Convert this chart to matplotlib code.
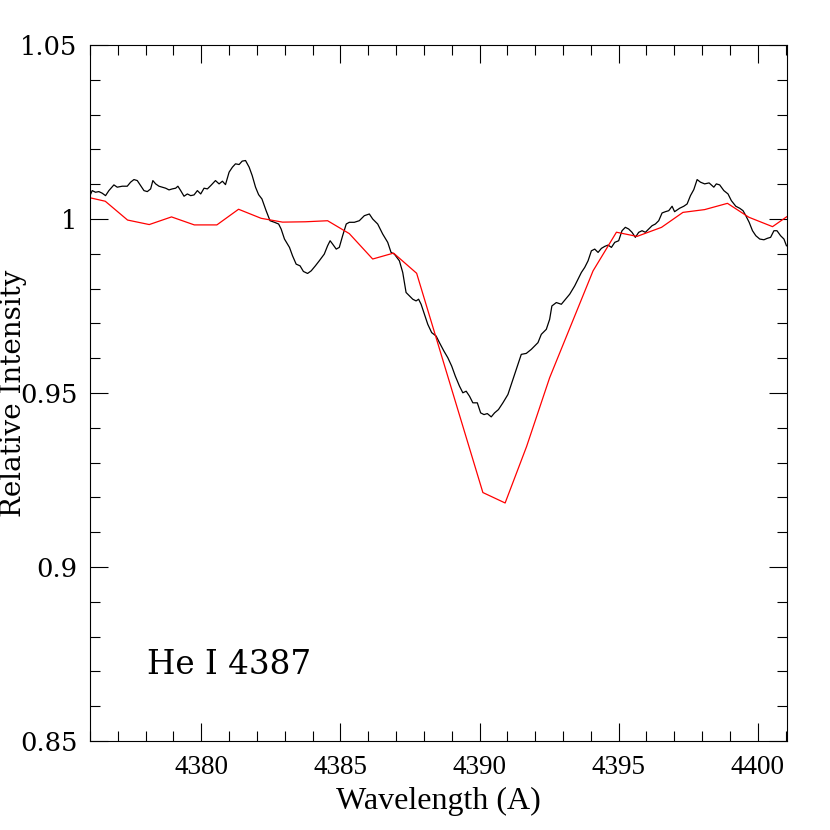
import matplotlib
matplotlib.use('Agg')
import matplotlib.pyplot as plt
from matplotlib.ticker import MultipleLocator, FormatStrFormatter, FuncFormatter

obs_wave = [4376.00, 4376.08, 4376.20, 4376.32, 4376.44, 4376.56, 4376.68, 4376.86, 4376.98, 4377.16,
            4377.34, 4377.46, 4377.58, 4377.70, 4377.82, 4377.94, 4378.06, 4378.18, 4378.26, 4378.36,
            4378.48, 4378.60, 4378.72, 4378.84, 4378.96, 4379.08, 4379.16, 4379.26, 4379.38, 4379.50,
            4379.62, 4379.74, 4379.86, 4379.98, 4380.10, 4380.22, 4380.34, 4380.51, 4380.64, 4380.76,
            4380.87, 4381.00, 4381.12, 4381.23, 4381.36, 4381.47, 4381.59, 4381.72, 4381.83, 4381.95,
            4382.06, 4382.18, 4382.33, 4382.47, 4382.63, 4382.78, 4382.87, 4382.99, 4383.17, 4383.28,
            4383.41, 4383.55, 4383.67, 4383.82, 4383.95, 4384.10, 4384.24, 4384.42, 4384.54, 4384.63,
            4384.72, 4384.85, 4384.96, 4385.08, 4385.21, 4385.32, 4385.50, 4385.68, 4385.86, 4386.04,
            4386.16, 4386.34, 4386.52, 4386.70, 4386.82, 4386.94, 4387.12, 4387.24, 4387.36, 4387.48,
            4387.60, 4387.72, 4387.81, 4387.90, 4388.02, 4388.14, 4388.28, 4388.44, 4388.56, 4388.72,
            4388.86, 4389.00, 4389.13, 4389.28, 4389.40, 4389.52, 4389.64, 4389.76, 4389.92, 4390.04,
            4390.16, 4390.28, 4390.42, 4390.54, 4390.68, 4390.84, 4391.02, 4391.20, 4391.36, 4391.50,
            4391.68, 4391.86, 4391.98, 4392.10, 4392.22, 4392.40, 4392.52, 4392.60, 4392.76, 4392.94,
            4393.06, 4393.24, 4393.42, 4393.54, 4393.66, 4393.78, 4393.90, 4394.02, 4394.14, 4394.26,
            4394.38, 4394.50, 4394.62, 4394.74, 4394.86, 4395.00, 4395.12, 4395.24, 4395.36, 4395.48,
            4395.60, 4395.72, 4395.84, 4395.96, 4396.08, 4396.20, 4396.32, 4396.44, 4396.56, 4396.68,
            4396.80, 4396.92, 4397.01, 4397.19, 4397.34, 4397.46, 4397.58, 4397.70, 4397.82, 4397.94,
            4398.09, 4398.25, 4398.33, 4398.42, 4398.51, 4398.63, 4398.78, 4398.93, 4399.05, 4399.21,
            4399.35, 4399.47, 4399.57, 4399.69, 4399.81, 4399.93, 4400.07, 4400.22, 4400.34, 4400.46,
            4400.58, 4400.69, 4400.82, 4400.94, 4401.03]
obs_flux = [1.00671, 1.00816, 1.00769, 1.00787, 1.00741, 1.00671, 1.00816, 1.00980, 1.00914, 1.00942,
            1.00942, 1.01058, 1.01133, 1.01104, 1.00960, 1.00816, 1.00787, 1.00865, 1.01104, 1.01009,
            1.00942, 1.00914, 1.00885, 1.00836, 1.00865, 1.00885, 1.00942, 1.00816, 1.00654, 1.00720,
            1.00671, 1.00692, 1.00816, 1.00720, 1.00885, 1.00865, 1.00960, 1.01104, 1.01009, 1.01086,
            1.00988, 1.01346, 1.01490, 1.01585, 1.01565, 1.01663, 1.01680, 1.01490, 1.01248, 1.00914,
            1.00700, 1.00576, 1.00239, 0.99951, 0.99905, 0.99856, 0.99712, 0.99424, 0.99184, 0.98942,
            0.98703, 0.98654, 0.98493, 0.98435, 0.98510, 0.98654, 0.98798, 0.98991, 0.99231, 0.99375,
            0.99280, 0.99135, 0.99184, 0.99519, 0.99856, 0.99905, 0.99905, 0.99951, 1.00095, 1.00144,
            1.00000, 0.99856, 0.99568, 0.99329, 0.99040, 0.98991, 0.98798, 0.98464, 0.97888, 0.97790,
            0.97695, 0.97646, 0.97695, 0.97550, 0.97262, 0.96974, 0.96735, 0.96637, 0.96447, 0.96205,
            0.96014, 0.95772, 0.95484, 0.95196, 0.95006, 0.95052, 0.94908, 0.94718, 0.94718, 0.94429,
            0.94380, 0.94409, 0.94314, 0.94429, 0.94524, 0.94718, 0.94957, 0.95389, 0.95772, 0.96110,
            0.96138, 0.96254, 0.96349, 0.96447, 0.96686, 0.96830, 0.97118, 0.97501, 0.97599, 0.97550,
            0.97666, 0.97839, 0.98078, 0.98271, 0.98464, 0.98608, 0.98798, 0.99086, 0.99135, 0.99040,
            0.99156, 0.99213, 0.99251, 0.99184, 0.99329, 0.99375, 0.99663, 0.99761, 0.99712, 0.99617,
            0.99473, 0.99617, 0.99663, 0.99617, 0.99712, 0.99807, 0.99856, 0.99951, 1.00173, 1.00210,
            1.00239, 1.00366, 1.00210, 1.00308, 1.00366, 1.00432, 1.00671, 1.00844, 1.01133, 1.01058,
            1.01009, 1.01037, 1.00980, 1.00914, 1.01009, 1.00980, 1.00816, 1.00720, 1.00527, 1.00366,
            1.00308, 1.00239, 1.00095, 0.99905, 0.99663, 0.99519, 0.99424, 0.99403, 0.99444, 0.99473,
            0.99663, 0.99663, 0.99519, 0.99424, 0.99231]

# model spectrum
mod_wave = [4376.00, 4376.55, 4377.35, 4378.13, 4378.93, 4379.75, 4380.56, 4381.34, 4382.15, 4382.92,
            4383.74, 4384.54, 4385.32, 4386.16, 4386.91, 4387.74, 4390.12, 4390.92, 4391.69, 4392.52,
            4394.08, 4394.92, 4395.66, 4396.54, 4397.31, 4398.09, 4398.91, 4399.68, 4400.53, 4401.05]
mod_flux = [1.0061, 1.0051, 0.9997, 0.9984, 1.0006, 0.9983, 0.9983, 1.0028, 1.0002, 0.9991,
            0.9992, 0.9995, 0.9958, 0.9885, 0.9902, 0.9844, 0.9214, 0.9184, 0.9346, 0.9544,
            0.9851, 0.9962, 0.9950, 0.9976, 1.0019, 1.0027, 1.0045, 1.0005, 0.9978, 1.0007]

plt.rcParams['font.family'] = ['DejaVu Serif']

fig = plt.figure(figsize=(8.3, 8.3), dpi=100)
ax = fig.add_axes([0.1084, 0.1072, 0.8398, 0.8386])

ax.plot(obs_wave, obs_flux, color='black', linewidth=0.9)
ax.plot(mod_wave, mod_flux, color='red', linewidth=0.9)

ax.set_xlim(4376, 4401.05)
ax.set_ylim(0.85, 1.05)

ax.xaxis.set_major_locator(MultipleLocator(5))
ax.xaxis.set_minor_locator(MultipleLocator(1))
ax.yaxis.set_major_locator(MultipleLocator(0.05))
ax.yaxis.set_minor_locator(MultipleLocator(0.01))
ax.xaxis.set_major_formatter(FormatStrFormatter('%d'))
ax.yaxis.set_major_formatter(FuncFormatter(lambda v, p: ('%.2f' % v).rstrip('0').rstrip('.')))

ax.tick_params(which='both', direction='in', top=True, right=True, width=0.8)
ax.tick_params(which='major', length=13)
ax.tick_params(which='minor', length=7)
ax.tick_params(axis='x', pad=10)
ax.tick_params(axis='y', pad=9, labelsize=18.5)
for lbl in ax.get_xticklabels():
    lbl.set_fontfamily('Liberation Serif')
    lbl.set_fontsize(19.5)
for s in ax.spines.values():
    s.set_linewidth(0.8)

ax.set_xlabel('Wavelength (A)', fontsize=23, fontfamily='Liberation Serif')
ax.xaxis.set_label_coords(0.5, -0.0862)
ax.xaxis.label.set_verticalalignment('center')
ax.set_ylabel('Relative Intensity', fontsize=20)
ax.yaxis.set_label_coords(-0.109, 0.5)
ax.yaxis.label.set_verticalalignment('center')

ax.text(4378.05, 0.8692, 'He I 4387', fontsize=23.5, ha='left', va='baseline')

fig.savefig('out.png', dpi=100)
